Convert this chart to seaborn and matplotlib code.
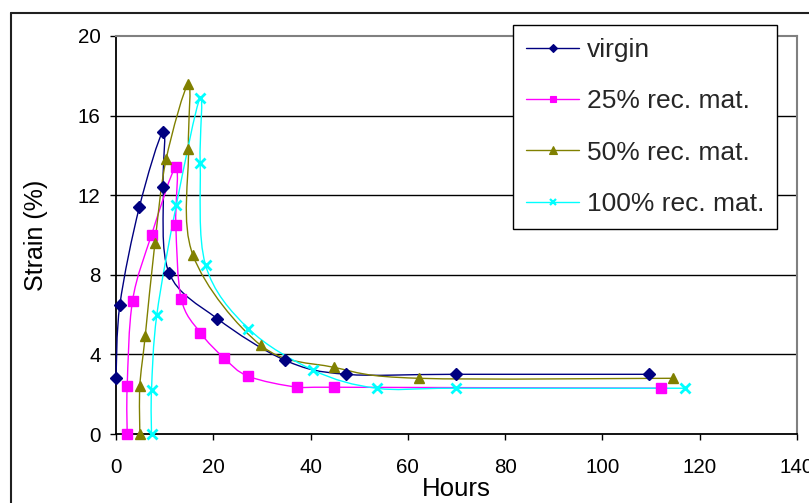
import numpy as np
import pandas as pd
import matplotlib
matplotlib.use("Agg")
import matplotlib.pyplot as plt
import seaborn as sns
from matplotlib.path import Path
from matplotlib.patches import PathPatch
from matplotlib.lines import Line2D

# ---------------- data ----------------
virgin_h = [0, 0.8, 4.8, 9.7, 9.7, 10.9, 20.8, 34.8, 47.3, 69.8, 109.5]
virgin_s = [2.8, 6.5, 11.4, 15.2, 12.4, 8.1, 5.8, 3.7, 3.0, 3.0, 3.0]

rec25_h = [2.3, 2.3, 3.4, 7.3, 12.3, 12.3, 13.4, 17.3, 22.3, 27.2, 37.3, 44.8, 112.0]
rec25_s = [0, 2.4, 6.7, 10.0, 13.4, 10.5, 6.8, 5.1, 3.8, 2.9, 2.35, 2.35, 2.3]

rec50_h = [4.9, 4.9, 6.0, 8.0, 10.3, 14.9, 14.9, 15.8, 29.8, 44.8, 62.2, 114.5]
rec50_s = [0, 2.4, 4.9, 9.6, 13.8, 17.6, 14.3, 9.0, 4.45, 3.35, 2.8, 2.8]

rec100_h = [7.3, 7.3, 8.4, 12.4, 17.3, 17.3, 18.4, 27.2, 40.6, 53.6, 69.8, 117.0]
rec100_s = [0, 2.2, 6.0, 11.5, 16.9, 13.6, 8.5, 5.3, 3.2, 2.3, 2.3, 2.3]

series_names = ["virgin", "25% rec. mat.", "50% rec. mat.", "100% rec. mat."]
x_ticks = [0, 20, 40, 60, 80, 100, 120, 140]
y_ticks = [0, 4, 8, 12, 16, 20]

# ---------------- style ----------------
sns.set_theme(style="white")
plt.rcParams["font.family"] = ["Liberation Sans", "DejaVu Sans"]

styles = {
    "virgin": dict(color="#000080", marker="D", ms=6, mew=1),
    "25% rec. mat.": dict(color="#FF00FF", marker="s", ms=6.5, mew=1),
    "50% rec. mat.": dict(color="#808000", marker="^", ms=7.5, mew=1),
    "100% rec. mat.": dict(color="#00FFFF", marker="x", ms=7, mew=2),
}

data = {
    "virgin": (virgin_h, virgin_s),
    "25% rec. mat.": (rec25_h, rec25_s),
    "50% rec. mat.": (rec50_h, rec50_s),
    "100% rec. mat.": (rec100_h, rec100_s),
}

W, H = 809, 503
fig = plt.figure(figsize=(W / 100, H / 100), dpi=100)
ax = fig.add_axes([116 / W, 1 - 434 / H, (797 - 116) / W, (434 - 36) / H])


def smooth_path(xs, ys):
    """Excel-style smoothed line: cubic Bezier segments through the points."""
    p = np.column_stack([xs, ys]).astype(float)
    n = len(p)
    verts = [p[0]]
    codes = [Path.MOVETO]
    for i in range(n - 1):
        p0 = p[i - 1] if i > 0 else p[i]
        p1 = p[i]
        p2 = p[i + 1]
        p3 = p[i + 2] if i + 2 < n else p[i + 1]
        c1 = p1 + (p2 - p0) / 6.0
        c2 = p2 - (p3 - p1) / 6.0
        verts += [c1, c2, p2]
        codes += [Path.CURVE4] * 3
    return Path(verts, codes)


handles = []
for name in series_names:
    xs, ys = data[name]
    st = styles[name]
    patch = PathPatch(smooth_path(xs, ys), facecolor="none", edgecolor=st["color"],
                      lw=1.0, zorder=3, transform=ax.transData, clip_on=False)
    ax.add_patch(patch)
    df = pd.DataFrame({"Hours": xs, "Strain": ys})
    sns.lineplot(data=df, x="Hours", y="Strain", sort=False, estimator=None,
                 linestyle="none", marker=st["marker"], markersize=st["ms"],
                 color=st["color"], markeredgecolor=st["color"],
                 markeredgewidth=st["mew"], ax=ax, zorder=4, clip_on=False)
    handles.append(Line2D([], [], color=st["color"], lw=1.0, marker=st["marker"],
                          markersize=st["ms"] * 0.7, markeredgecolor=st["color"],
                          markeredgewidth=st["mew"] * 0.8))

ax.set_xlim(0, 140)
ax.set_ylim(0, 20)
ax.set_xticks(x_ticks)
ax.set_yticks(y_ticks)
ax.set_xticklabels([str(t) for t in x_ticks])
ax.set_yticklabels([str(t) for t in y_ticks])

for yv in y_ticks[1:-1]:
    ax.axhline(yv, color="black", lw=1.0, zorder=1)

ax.spines["left"].set_color("black")
ax.spines["bottom"].set_color("black")
ax.spines["left"].set_linewidth(1.3)
ax.spines["bottom"].set_linewidth(1.3)
ax.spines["top"].set_color("#808080")
ax.spines["right"].set_color("#808080")
ax.spines["top"].set_linewidth(1.5)
ax.spines["right"].set_linewidth(1.5)

ax.tick_params(axis="both", direction="out", length=4.5, width=1, color="black",
               labelsize=14.8, labelcolor="black")
ax.tick_params(axis="x", pad=12.5, bottom=True)
ax.tick_params(axis="y", pad=6.5, left=True)

ax.set_xlabel("Hours", fontsize=18.6, labelpad=0.5, color="black")
ax.set_ylabel("Strain (%)", fontsize=18.0, labelpad=21.5, color="black")

leg = fig.legend(handles, series_names, loc="upper left",
                 bbox_to_anchor=(513 / W, 1 - 25 / H), bbox_transform=fig.transFigure,
                 borderaxespad=0, fontsize=19, frameon=True, fancybox=False,
                 edgecolor="black", facecolor="white", framealpha=1,
                 handlelength=2.0, handletextpad=0.3, borderpad=0.5,
                 labelspacing=1.03)
leg.get_frame().set_linewidth(1.0)
leg.set_zorder(10)

# outer chart-area frame (left and top edges visible)
fig.add_artist(Line2D([11 / W, 11 / W], [0, 1 - 13 / H], transform=fig.transFigure,
                      color="#202020", lw=1.5))
fig.add_artist(Line2D([11 / W, 1], [1 - 13 / H, 1 - 13 / H], transform=fig.transFigure,
                      color="#202020", lw=1.5))

fig.savefig("out.png", dpi=100)
